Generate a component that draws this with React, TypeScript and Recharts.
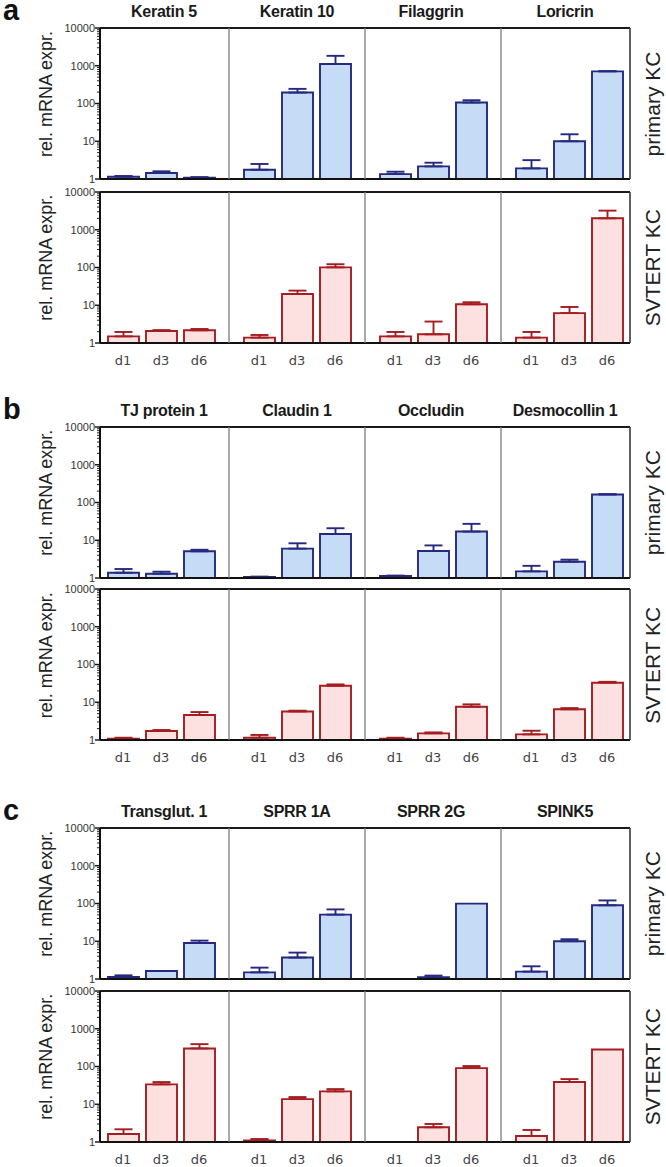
import React from 'react';
import { BarChart, Bar, XAxis, YAxis, ErrorBar, ReferenceLine } from 'recharts';

// ---------- data ----------
const days = ['d1', 'd3', 'd6'];

const genesA = ['Keratin 5', 'Keratin 10', 'Filaggrin', 'Loricrin'];
const primaryA = [[1.15, 1.44, 1.08], [1.76, 195, 1110], [1.35, 2.16, 106], [1.91, 10, 710]];
const primaryAErr = [[0.05, 0.16, 0.04], [0.74, 49, 720], [0.21, 0.54, 16], [1.25, 5.3, 10]];
const svtertA = [[1.5, 2.08, 2.17], [1.39, 19.9, 101], [1.5, 1.7, 10.6], [1.39, 6.2, 2010]];
const svtertAErr = [[0.46, 0.12, 0.18], [0.24, 4.5, 21], [0.46, 2.0, 1.4], [0.57, 2.8, 1200]];

const genesB = ['TJ protein 1', 'Claudin 1', 'Occludin', 'Desmocollin 1'];
const primaryB = [[1.38, 1.3, 5.1], [1.06, 6.0, 14.7], [1.13, 5.2, 17], [1.5, 2.7, 163]];
const primaryBErr = [[0.35, 0.17, 0.5], [0.03, 2.3, 6.1], [0.03, 2.1, 10.2], [0.6, 0.36, 3]];
const svtertB = [[1.08, 1.73, 4.6], [1.15, 5.7, 27.4], [1.08, 1.5, 7.6], [1.41, 6.5, 33]];
const svtertBErr = [[0.07, 0.11, 0.9], [0.21, 0.28, 2.3], [0.07, 0.09, 1.2], [0.35, 0.5, 1.8]];

const genesC = ['Transglut. 1', 'SPRR 1A', 'SPRR 2G', 'SPINK5'];
const primaryC = [[1.13, 1.63, 9.0], [1.5, 3.7, 50.8], [null, 1.11, 99], [1.57, 10, 89.6]];
const primaryCErr = [[0.12, null, 1.4], [0.5, 1.3, 19], [null, 0.12, null], [0.6, 1.3, 31]];
const svtertC = [[1.63, 33.6, 301], [1.1, 13.7, 21.9], [null, 2.45, 90.7], [1.44, 38.7, 283]];
const svtertCErr = [[0.54, 5.1, 90], [0.1, 1.8, 3.3], [null, 0.55, 12], [0.64, 7.7, null]];

const majorTicks = [1, 10, 100, 1000, 10000];
const minorMultipliers = [2, 3, 4, 5, 6, 7, 8, 9];
const rowLabels = ['primary KC', 'SVTERT KC'];
const yTitle = 'rel. mRNA expr.';

// ---------- layout / style ----------
const SANS = '"Liberation Sans", Arial, sans-serif';
const edges = [100, 229, 365, 501, 630];
const pads = [[4, 11], [11, 11], [11, 11], [11, 4]];
const PLOT_H = 151;
const titleX = [164, 297, 431, 565];

const BLUE = { fill: '#c6dbf6', stroke: '#25297f' };
const RED = { fill: '#fde0e0', stroke: '#a51d20' };

const allTicks: number[] = [];
majorTicks.forEach((d, i) => {
  allTicks.push(d);
  if (i < majorTicks.length - 1) minorMultipliers.forEach((m) => allTicks.push(d * m));
});
allTicks.sort((a, b) => a - b);

const panels = [
  { letter: 'a', genes: genesA, tops: [28, 191.7], sets: [[primaryA, primaryAErr], [svtertA, svtertAErr]] },
  { letter: 'b', genes: genesB, tops: [426.7, 589.3], sets: [[primaryB, primaryBErr], [svtertB, svtertBErr]] },
  { letter: 'c', genes: genesC, tops: [827.7, 990.7], sets: [[primaryC, primaryCErr], [svtertC, svtertCErr]] },
];

const YTick = (props: any) => {
  const { x, y, payload } = props;
  const v = payload.value;
  const major = majorTicks.includes(v);
  return (
    <g>
      <line x1={x} x2={x - (major ? 5 : 3)} y1={y} y2={y} stroke="#111" strokeWidth={major ? 1.4 : 0.9} />
      {major && (
        <text x={x - 5} y={y} dy="0.36em" textAnchor="end" fontSize={11} fill="#333" fontFamily={SANS}>
          {v}
        </text>
      )}
    </g>
  );
};

function Cell({ values, errs, col, top, bottomRow, palette }: any) {
  const first = col === 0;
  const last = col === 3;
  const yw = first ? 44 : 1;
  const plotW = edges[col + 1] - edges[col];
  const mt = 8;
  const mr = last ? 3 : 0;
  const xh = bottomRow ? 30 : 8;
  const width = yw + plotW + (last ? 1 : 0) + mr;
  const height = mt + PLOT_H + xh;
  const data = days.map((d, i) => ({
    day: d,
    v: values[i],
    err: errs[i] == null ? null : [0, errs[i]],
  }));
  return (
    <div style={{ position: 'absolute', left: edges[col] - yw, top: top - mt }}>
      <BarChart width={width} height={height} data={data} margin={{ top: mt, right: mr, bottom: 0, left: 0 }}>
        <XAxis
          dataKey="day"
          padding={{ left: pads[col][0], right: pads[col][1] }}
          height={xh}
          tickLine={false}
          tickSize={0}
          tickMargin={13}
          interval={0}
          tick={bottomRow ? { fill: '#444', fontSize: 13, fontFamily: '"DejaVu Sans", Verdana, sans-serif' } : false}
          axisLine={{ stroke: '#111', strokeWidth: 2 }}
        />
        {first ? (
          <YAxis
            width={yw}
            type="number"
            scale="log"
            domain={[1, 10000]}
            allowDataOverflow
            ticks={allTicks}
            interval={0}
            tickSize={0}
            tickMargin={0}
            tickLine={false}
            tick={<YTick />}
            axisLine={{ stroke: '#111', strokeWidth: 2 }}
          />
        ) : (
          <YAxis
            width={yw}
            type="number"
            scale="log"
            domain={[1, 10000]}
            allowDataOverflow
            tick={false}
            tickLine={false}
            axisLine={{ stroke: '#7a7a7a', strokeWidth: 1.3 }}
          />
        )}
        {last && (
          <YAxis
            yAxisId="r"
            orientation="right"
            width={1}
            type="number"
            scale="log"
            domain={[1, 10000]}
            allowDataOverflow
            tick={false}
            tickLine={false}
            axisLine={{ stroke: '#3a3a3a', strokeWidth: 1.6 }}
          />
        )}
        <ReferenceLine y={10000} stroke="#1a1a1a" strokeWidth={2} />
        <Bar
          dataKey="v"
          fill={palette.fill}
          stroke={palette.stroke}
          strokeWidth={1.9}
          barSize={31}
          isAnimationActive={false}
        >
          <ErrorBar dataKey="err" width={9} stroke={palette.stroke} strokeWidth={1.9} direction="y" />
        </Bar>
      </BarChart>
    </div>
  );
}

export default function App() {
  return (
    <div style={{ position: 'absolute', left: 0, top: 0, width: 666, height: 1167, background: '#fff' }}>
      {panels.map((p) =>
        p.sets.map(([vals, errs], r) =>
          vals.map((v: any, col: number) => (
            <Cell
              key={p.letter + r + col}
              values={v}
              errs={(errs as any)[col]}
              col={col}
              top={p.tops[r]}
              bottomRow={r === 1}
              palette={r === 0 ? BLUE : RED}
            />
          ))
        )
      )}
      <svg
        width={666}
        height={1167}
        style={{ position: 'absolute', left: 0, top: 0, pointerEvents: 'none' }}
      >
        {panels.map((p) => (
          <g key={p.letter}>
            <text
              x={3}
              y={p.tops[0] - 8}
              fontSize={29}
              fontWeight="bold"
              fontFamily={SANS}
              fill="#111"
            >
              {p.letter}
            </text>
            {p.genes.map((g, i) => (
              <text
                key={g}
                x={titleX[i]}
                y={p.tops[0] - 11}
                textAnchor="middle"
                fontSize={16}
                fontWeight="bold"
                fontFamily={SANS}
                fill="#1a1a1a"
                letterSpacing={-0.3}
              >
                {g}
              </text>
            ))}
            {p.tops.map((t, r) => (
              <g key={r}>
                <text
                  transform={`translate(51.5, ${t + 66}) rotate(-90)`}
                  textAnchor="middle"
                  fontSize={18}
                  fontFamily={SANS}
                  fill="#222"
                >
                  {yTitle}
                </text>
                <text
                  transform={`translate(660, ${t + 76}) rotate(-90)`}
                  textAnchor="middle"
                  fontSize={21}
                  fontFamily={SANS}
                  fill="#222"
                >
                  {rowLabels[r]}
                </text>
              </g>
            ))}
          </g>
        ))}
      </svg>
    </div>
  );
}
